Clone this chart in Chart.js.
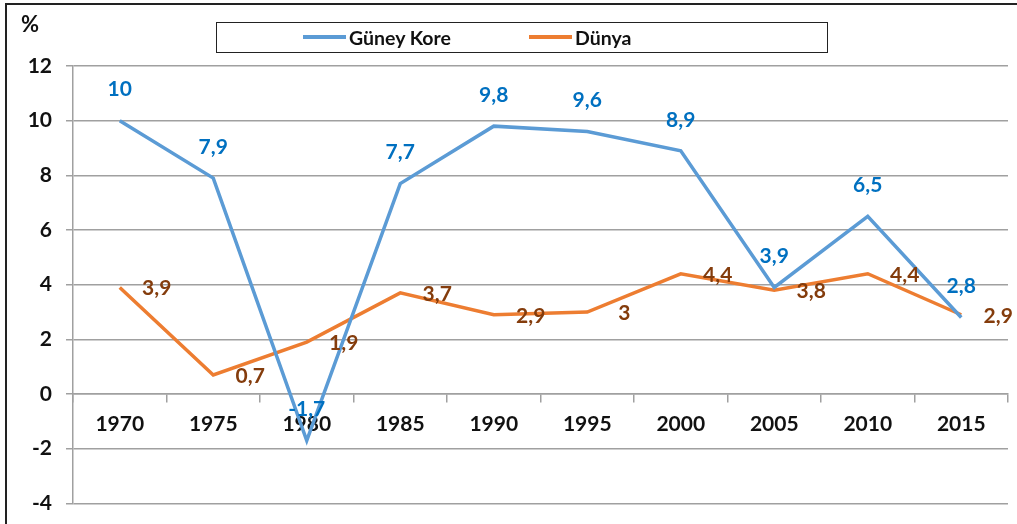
<!DOCTYPE html>
<html>
<head>
<meta charset="utf-8">
<script src="https://cdn.jsdelivr.net/npm/chart.js@4/dist/chart.umd.min.js"></script>
<style>
  body { margin: 0; background: #fff; font-family: Lato, sans-serif; }
  #wrap { position: relative; width: 1017px; height: 524px; overflow: hidden; }
  #frame { position: absolute; left: 5px; top: 3px; width: 1100px; height: 600px; border: 2px solid #222; box-sizing: border-box; }
  #pct { position: absolute; left: 21px; top: 10px; font-weight: bold; font-size: 22px; color: #111; }
  #legend { position: absolute; left: 216px; top: 22px; width: 612px; height: 31px; border: 1.5px solid #222; box-sizing: border-box; }
  .item { position: absolute; top: 0; height: 28px; display: flex; align-items: center; font-weight: bold; font-size: 19.5px; color: #111; }
  .item i { display: inline-block; width: 43px; height: 3.5px; margin-right: 3px; }
  canvas { position: absolute; left: 0; top: 0; }
</style>
</head>
<body>
<div id="wrap">
  <div id="frame"></div>
  <!-- canvas a bit taller than the view: the bottom label room gets clipped by #wrap -->
  <canvas id="growthChart" width="1017" height="530"></canvas>
  <div id="pct">%</div>
  <div id="legend"></div>
</div>
<script>
const years = ["1970", "1975", "1980", "1985", "1990", "1995", "2000", "2005", "2010", "2015"];
const koreaGrowth = [10, 7.9, -1.7, 7.7, 9.8, 9.6, 8.9, 3.9, 6.5, 2.8];
const worldGrowth = [3.9, 0.7, 1.9, 3.7, 2.9, 3, 4.4, 3.8, 4.4, 2.9];
const seriesNames = ["Güney Kore", "Dünya"];

const lineColors = ["#5B9BD5", "#ED7D31"];
const labelColors = ["#0070C0", "#843C0C"];

// legend box (html, built from the series names)
const legendBox = document.getElementById("legend");
const legendLeft = [86, 312];
seriesNames.forEach((name, i) => {
    const el = document.createElement("div");
    el.className = "item";
    el.style.left = legendLeft[i] + "px";
    el.innerHTML = '<i style="background:' + lineColors[i] + '"></i>' + name;
    legendBox.appendChild(el);
});

function fmt(v) {
    return String(v).replace(".", ",");
}

// value labels: korea above the point, world to the right
const valueLabels = {
    id: "valueLabels",
    afterDatasetsDraw(chart) {
        const ctx = chart.ctx;
        ctx.save();
        ctx.font = "bold 21px Lato";
        ctx.textAlign = "center";
        ctx.textBaseline = "middle";
        chart.data.datasets.forEach((ds, i) => {
            const meta = chart.getDatasetMeta(i);
            ctx.fillStyle = labelColors[i];
            meta.data.forEach((pt, j) => {
                const txt = fmt(ds.data[j]);
                if (i === 0) {
                    ctx.fillText(txt, pt.x, pt.y - 31);
                } else {
                    ctx.fillText(txt, pt.x + 37, pt.y + 1);
                }
            });
        });
        ctx.restore();
    }
};

const ctx = document.getElementById("growthChart").getContext("2d");
new Chart(ctx, {
    type: "line",
    data: {
        labels: years,
        datasets: [{
            label: seriesNames[0],
            data: koreaGrowth,
            borderColor: lineColors[0],
            borderWidth: 3.5,
            pointRadius: 0,
            tension: 0,
            fill: false
        }, {
            label: seriesNames[1],
            data: worldGrowth,
            borderColor: lineColors[1],
            borderWidth: 3.5,
            pointRadius: 0,
            tension: 0,
            fill: false
        }]
    },
    options: {
        responsive: false,
        animation: false,
        layout: {
            padding: { left: 0, top: 66, right: 9, bottom: 7 }
        },
        plugins: {
            legend: { display: false },
            tooltip: { enabled: false }
        },
        scales: {
            x: {
                position: { y: 0 },
                offset: true,
                grid: {
                    offset: true,
                    drawOnChartArea: false,
                    drawTicks: true,
                    tickLength: 8,
                    color: "#a0a0a0",
                    lineWidth: 1.5
                },
                border: { display: true, color: "#a0a0a0", width: 1.5 },
                ticks: {
                    padding: 10,
                    color: "#111",
                    font: { family: "Lato", weight: "bold", size: 21 },
                    maxRotation: 0
                }
            },
            y: {
                min: -4,
                max: 12,
                afterFit(scale) { scale.width = 73; },
                grid: {
                    color: "#a0a0a0",
                    lineWidth: 1.5,
                    tickLength: 7
                },
                border: { display: true, color: "#a0a0a0", width: 1.5 },
                ticks: {
                    stepSize: 2,
                    padding: 14,
                    color: "#111",
                    font: { family: "Lato", weight: "bold", size: 21 }
                }
            }
        }
    },
    plugins: [valueLabels]
});
</script>
</body>
</html>
